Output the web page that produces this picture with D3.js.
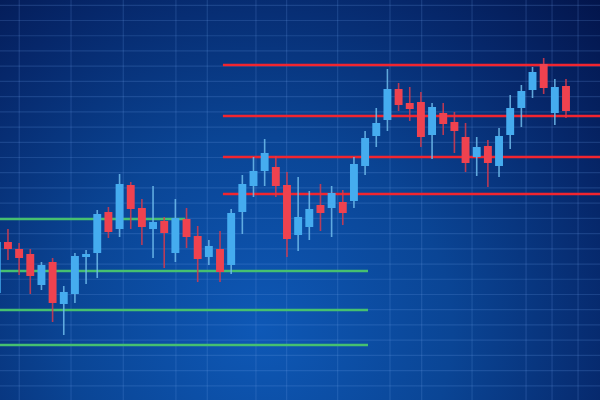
<!DOCTYPE html>
<html>
<head>
<meta charset="utf-8">
<script src="https://cdn.jsdelivr.net/npm/d3@7"></script>
<style>
  html, body { margin: 0; padding: 0; background: #0a2f78; }
  svg { display: block; }
</style>
</head>
<body>
<script>
// candle values (price units), one entry per session
var openV  = [107,158,151,146,115,138, 96,106,143,147,188,171,215,192,171,179,147,181,164,143,151,135,188,214,229,233,
              215,165,173,195,192,198,199,234,264,280,311,297,298,265,287,278,263,243,254,234,265,292,310,336,287,314];
var highV  = [164,171,157,151,138,142,114,147,150,190,193,226,218,201,214,183,201,192,174,160,169,191,225,243,261,244,
              228,223,209,216,214,210,243,269,292,331,317,313,308,297,297,288,277,263,260,272,305,315,333,342,321,321];
var lowV   = [100,140,125,106,110, 78, 65, 97,116,122,162,163,171,155,142,132,138,152,118,135,118,126,166,203,214,203,
              143,149,160,169,163,175,192,225,253,269,289,279,253,241,265,247,228,224,213,223,251,273,302,306,275,282];
var closeV = [158,151,142,124,135, 97,108,144,146,186,168,216,191,173,178,167,182,163,141,154,128,187,216,229,247,214,
              161,183,191,187,207,187,236,262,277,311,295,291,263,293,276,269,237,253,237,264,292,309,328,312,313,289];

// support / resistance levels: price, start session, end session
var supportLevels = [181, 129, 90, 55];
var supportFrom   = [-1, -1, -1, -1];
var supportTo     = [16.86, 33.26, 33.26, 33.26];
var resistLevels  = [335, 284, 243, 206];
var resistFrom    = [20.26, 20.26, 20.26, 20.26];
var resistTo      = [55, 55, 55, 55];

// vertical grid lines (session units)
var gridSessions = [2.01, 6.65, 11.33, 16.05, 18.86, 23.22, 25.97, 30.54, 35.23, 38.07, 42.58, 47.42, 49.75, 52.08];

var width = 600, height = 400;

var candles = openV.map(function(o, i) {
    return {i: i, o: o, h: highV[i], l: lowV[i], c: closeV[i]};
});

var x = d3.scaleLinear().domain([0, 51]).range([-3.2, 566]);
var y = d3.scaleLinear().domain([0, 400]).range([height, 0]);

var svg = d3.select("body").append("svg")
    .attr("width", width)
    .attr("height", height);

var defs = svg.append("defs");
var bg = defs.append("radialGradient")
    .attr("id", "bg")
    .attr("gradientUnits", "userSpaceOnUse")
    .attr("cx", 260).attr("cy", 330).attr("r", 480);
bg.append("stop").attr("offset", "0%").attr("stop-color", "#0e58b6");
bg.append("stop").attr("offset", "40%").attr("stop-color", "#0a4595");
bg.append("stop").attr("offset", "75%").attr("stop-color", "#06276a");
bg.append("stop").attr("offset", "100%").attr("stop-color", "#03144a");

var glow = defs.append("filter").attr("id", "soft");
glow.append("feGaussianBlur").attr("stdDeviation", 0.4);

svg.append("rect")
    .attr("width", width)
    .attr("height", height)
    .attr("fill", "url(#bg)");

// grid
var grid = svg.append("g").attr("stroke", "rgba(110,160,235,0.2)").attr("stroke-width", 1.2);
grid.selectAll(".hg")
    .data(d3.range(394.7, -10, -15.22))
    .enter().append("line")
        .attr("x1", 0).attr("x2", width)
        .attr("y1", function(d) { return y(d); })
        .attr("y2", function(d) { return y(d); });
grid.selectAll(".vg")
    .data(gridSessions)
    .enter().append("line")
        .attr("y1", 0).attr("y2", height)
        .attr("x1", function(d) { return x(d); })
        .attr("x2", function(d) { return x(d); });

// support lines
svg.append("g").selectAll("line")
    .data(supportLevels)
    .enter().append("line")
        .attr("x1", function(d, i) { return x(supportFrom[i]); })
        .attr("x2", function(d, i) { return x(supportTo[i]); })
        .attr("y1", function(d) { return y(d); })
        .attr("y2", function(d) { return y(d); })
        .attr("stroke", "#46c070")
        .attr("stroke-width", 2.4);

// resistance lines
svg.append("g").selectAll("line")
    .data(resistLevels)
    .enter().append("line")
        .attr("x1", function(d, i) { return x(resistFrom[i]); })
        .attr("x2", function(d, i) { return x(resistTo[i]); })
        .attr("y1", function(d) { return y(d); })
        .attr("y2", function(d) { return y(d); })
        .attr("stroke", "#f2252f")
        .attr("stroke-width", 2.6);

var bodyW = 7.9;
var up = function(d) { return d.c >= d.o; };

var candleG = svg.append("g").attr("filter", "url(#soft)");

// wicks
candleG.selectAll(".wick")
    .data(candles)
    .enter().append("line")
        .attr("class", "wick")
        .attr("x1", function(d) { return x(d.i); })
        .attr("x2", function(d) { return x(d.i); })
        .attr("y1", function(d) { return y(d.h); })
        .attr("y2", function(d) { return y(d.l); })
        .attr("stroke", function(d) { return up(d) ? "#6fbcec" : "#d83a4c"; })
        .attr("stroke-opacity", 0.85)
        .attr("stroke-width", 1.6);

// bodies
candleG.selectAll(".body")
    .data(candles)
    .enter().append("rect")
        .attr("class", "body")
        .attr("x", function(d) { return x(d.i) - bodyW / 2; })
        .attr("width", bodyW)
        .attr("y", function(d) { return y(Math.max(d.o, d.c)); })
        .attr("height", function(d) { return Math.max(2, Math.abs(y(d.o) - y(d.c))); })
        .attr("fill", function(d) { return up(d) ? "#45acef" : "#ef4350"; });
</script>
</body>
</html>
